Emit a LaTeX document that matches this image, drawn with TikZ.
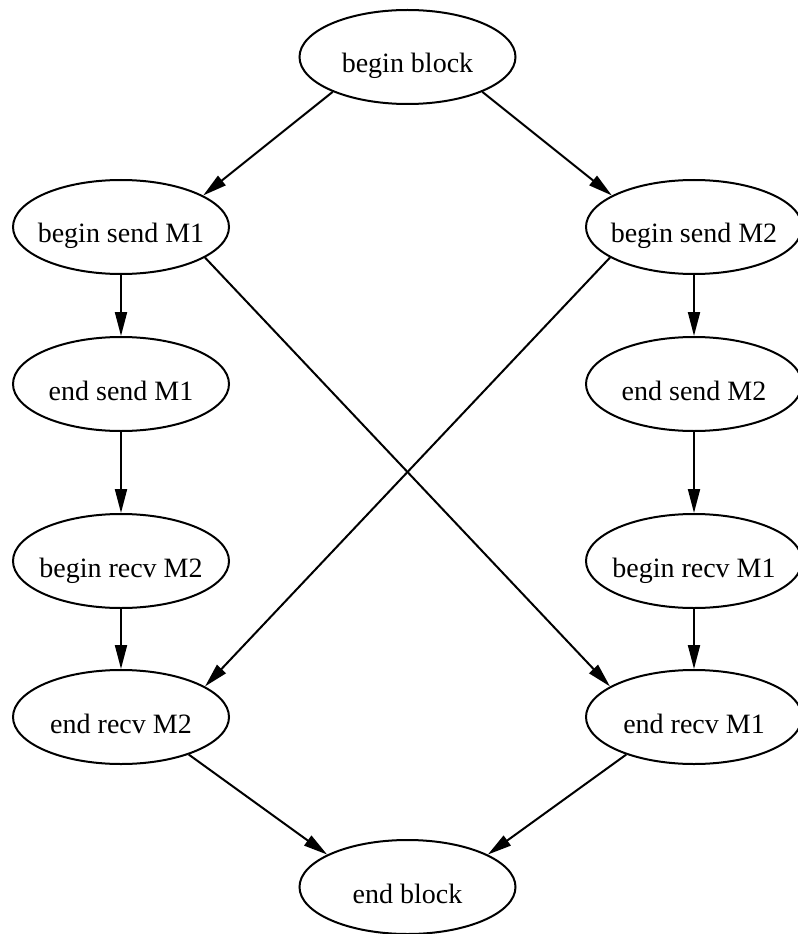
\documentclass[tikz,border=0pt]{standalone}
\usepackage{fontspec}
\setmainfont{Liberation Serif}
\usetikzlibrary{shapes.geometric,arrows.meta}
\begin{document}
\begin{tikzpicture}[x=0.75pt,y=-0.75pt,
  event/.style={ellipse, draw, line width=1.5pt, minimum width=162pt,
    minimum height=70.5pt, inner sep=0pt, text height=24pt, text depth=0pt,
    font=\fontsize{21}{25}\selectfont},
  flow/.style={draw, line width=1.5pt, -{Triangle[length=18pt,width=9pt]}}]
\useasboundingbox (0,0) rectangle (798,934);

% events
\node[event] (bb)  at (407.5,57)  {\makebox[0pt]{begin block}};
\node[event] (bs1) at (121,227)   {\makebox[0pt]{begin send M1}};
\node[event] (bs2) at (694,227)   {\makebox[0pt]{begin send M2}};
\node[event] (es1) at (121,384)   {\makebox[0pt]{end send M1}};
\node[event] (es2) at (694,384)   {\makebox[0pt]{end send M2}};
\node[event] (br2) at (121,561)   {\makebox[0pt]{begin recv M2}};
\node[event] (br1) at (694,561)   {\makebox[0pt]{begin recv M1}};
\node[event] (er2) at (121,717)   {\makebox[0pt]{end recv M2}};
\node[event] (er1) at (694,717)   {\makebox[0pt]{end recv M1}};
\node[event] (eb)  at (407.5,887) {\makebox[0pt]{end block}};

% ordering edges
\draw[flow] (bb.205) -- (bs1.21);
\draw[flow] (bb.-25) -- (bs2.159);
\draw[flow] (bs1) -- (es1);
\draw[flow] (bs2) -- (es2);
\draw[flow] (bs1.-20) -- (er1.160);
\draw[flow] (bs2.200) -- (er2.20);
\draw[flow] (es1) -- (br2);
\draw[flow] (es2) -- (br1);
\draw[flow] (br2) -- (er2);
\draw[flow] (br1) -- (er1);
\draw[flow] (er2.-29) -- (eb.158);
\draw[flow] (er1.209) -- (eb.22);
\end{tikzpicture}
\end{document}
